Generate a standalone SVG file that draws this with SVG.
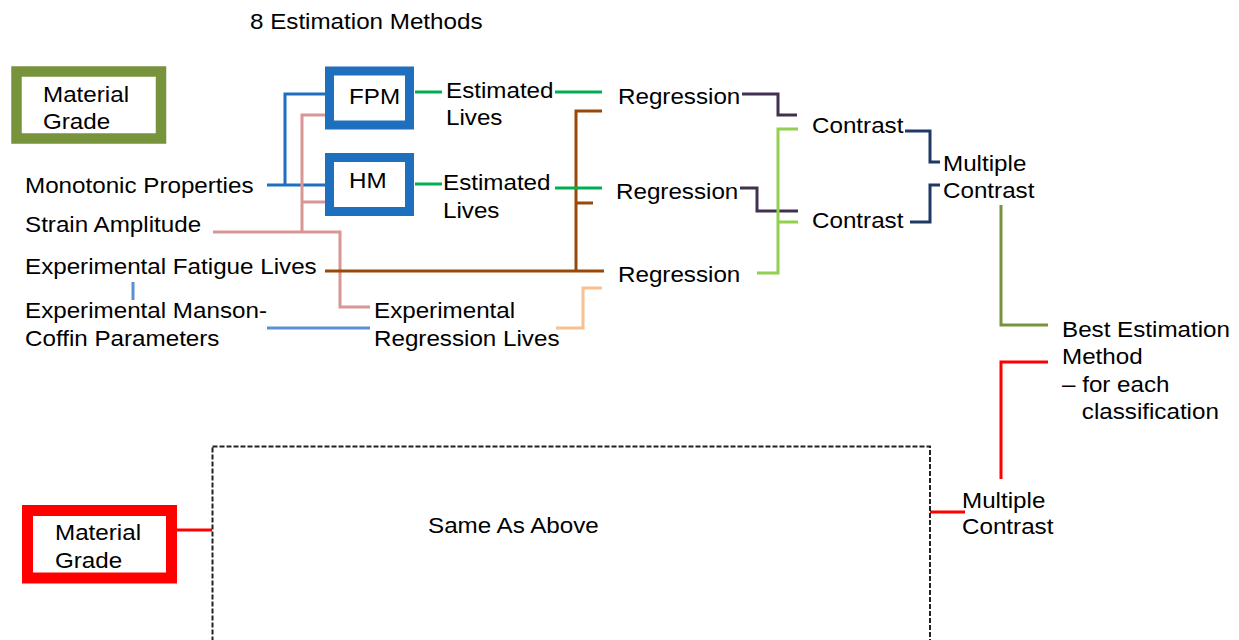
<svg xmlns="http://www.w3.org/2000/svg" width="1239" height="640" viewBox="0 0 1239 640">
<style>
text{font-family:"Liberation Sans",Arial,sans-serif;font-size:22px;fill:#000}
.c{fill:none;stroke-width:3}
.blue{stroke:#1f6fbf}.lblue{stroke:#5b8fd6}.pink{stroke:#d99694}.brown{stroke:#984807}
.green{stroke:#00b050}.lgreen{stroke:#92d050}.purple{stroke:#403152}.navy{stroke:#1f3864}
.olive{stroke:#77933c}.red{stroke:#ff0000}.peach{stroke:#fac090}
</style>
<rect width="1239" height="640" fill="#fff"/>
<g id="connectors">
<path class="c blue" d="M267 185H325M285 185V94H325"/>
<path class="c lblue" d="M133 282V300M267 328H370"/>
<path class="c pink" d="M213 232H340V307H370M302 232V115H325M302 202H325"/>
<path class="c brown" d="M325 271H604M576 271V111H602M576 203H593"/>
<path class="c green" d="M415 92H442M555 92H602M415 184H442M555 188H602"/>
<path class="c peach" d="M556 328H583V288H602"/>
<path class="c purple" d="M742 94H778V115H797M740 188H757V211H798"/>
<path class="c lgreen" d="M798 129H778V273H757M778 222H798"/>
<path class="c navy" d="M905 131H930V162H940M910 222H930V185H940"/>
<path class="c olive" d="M1001 205V325H1048"/>
<path class="c red" d="M1001 479V362H1048M930 512H965M177 530H212"/>
</g>
<g id="title"><text transform="translate(250,29) scale(1.1,1)">8 Estimation Methods</text></g>
<g id="material-grade-top">
<rect x="16.5" y="71.5" width="144.5" height="67" fill="#fff" stroke="#77933c" stroke-width="10.5"/>
<text transform="translate(43,102) scale(1.1,1)"><tspan x="0" y="0">Material</tspan><tspan x="0" y="27">Grade</tspan></text>
</g>
<g id="fpm">
<rect x="329.5" y="71" width="80" height="54" fill="#fff" stroke="#1f6fbf" stroke-width="9"/>
<text transform="translate(349,104) scale(1.1,1)">FPM</text>
</g>
<g id="hm">
<rect x="329.5" y="157.5" width="80" height="54" fill="#fff" stroke="#1f6fbf" stroke-width="9"/>
<text transform="translate(349,188) scale(1.1,1)">HM</text>
</g>
<g id="monotonic"><text transform="translate(25,193) scale(1.1,1)">Monotonic Properties</text></g>
<g id="strain"><text transform="translate(25,232) scale(1.1,1)">Strain Amplitude</text></g>
<g id="fatigue"><text transform="translate(25,274) scale(1.1,1)">Experimental Fatigue Lives</text></g>
<g id="manson"><text transform="translate(25,318) scale(1.1,1)"><tspan x="0" y="0">Experimental Manson-</tspan><tspan x="0" y="28">Coffin Parameters</tspan></text></g>
<g id="est1"><text transform="translate(446,98) scale(1.1,1)"><tspan x="0" y="0">Estimated</tspan><tspan x="0" y="27">Lives</tspan></text></g>
<g id="est2"><text transform="translate(443,190) scale(1.1,1)"><tspan x="0" y="0">Estimated</tspan><tspan x="0" y="28">Lives</tspan></text></g>
<g id="expreg"><text transform="translate(374,318) scale(1.1,1)"><tspan x="0" y="0">Experimental</tspan><tspan x="0" y="28">Regression Lives</tspan></text></g>
<g id="reg1"><text transform="translate(618,104) scale(1.1,1)">Regression</text></g>
<g id="reg2"><text transform="translate(616,199) scale(1.1,1)">Regression</text></g>
<g id="reg3"><text transform="translate(618,282) scale(1.1,1)">Regression</text></g>
<g id="con1"><text transform="translate(812,133) scale(1.1,1)">Contrast</text></g>
<g id="con2"><text transform="translate(812,228) scale(1.1,1)">Contrast</text></g>
<g id="mc1"><text transform="translate(943,171) scale(1.1,1)"><tspan x="0" y="0">Multiple</tspan><tspan x="0" y="27">Contrast</tspan></text></g>
<g id="best"><text transform="translate(1062,337) scale(1.1,1)"><tspan x="0" y="0">Best Estimation</tspan><tspan x="0" y="27">Method</tspan><tspan x="0" y="55">– for each</tspan><tspan x="18" y="82">classification</tspan></text></g>
<g id="mc2"><text transform="translate(962,508) scale(1.1,1)"><tspan x="0" y="0">Multiple</tspan><tspan x="0" y="26">Contrast</tspan></text></g>
<g id="same">
<rect x="212.5" y="446.5" width="717.5" height="220" fill="none" stroke="#222" stroke-width="2" stroke-dasharray="5,2"/>
<text transform="translate(428,533) scale(1.1,1)">Same As Above</text>
</g>
<g id="material-grade-bottom">
<rect x="27.5" y="510.5" width="144" height="67.5" fill="#fff" stroke="#ff0000" stroke-width="11"/>
<text transform="translate(55,540) scale(1.1,1)"><tspan x="0" y="0">Material</tspan><tspan x="0" y="28">Grade</tspan></text>
</g>
</svg>
